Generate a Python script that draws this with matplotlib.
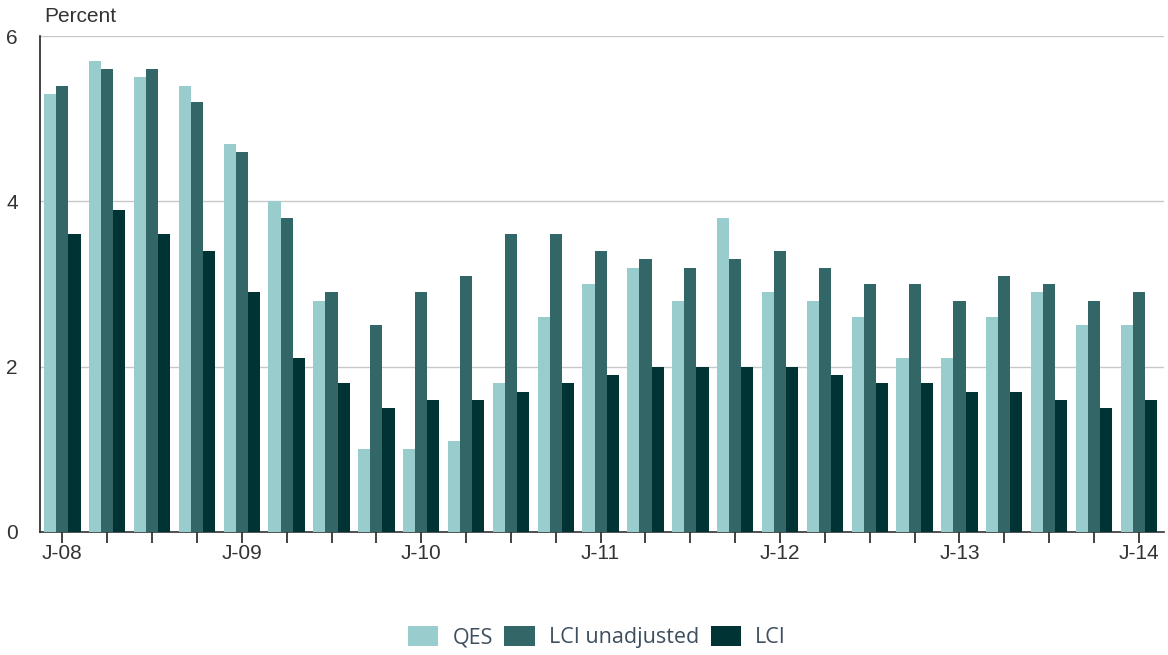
import matplotlib
matplotlib.use("Agg")
import matplotlib.pyplot as plt
import numpy as np

quarters = [f"{y}Q{q}" for y in range(2008, 2015) for q in range(1, 5)][:25]
tick_labels = ["J-08", "J-09", "J-10", "J-11", "J-12", "J-13", "J-14"]

qes = [5.3, 5.7, 5.5, 5.4, 4.7, 4.0, 2.8, 1.0, 1.0, 1.1, 1.8, 2.6, 3.0,
       3.2, 2.8, 3.8, 2.9, 2.8, 2.6, 2.1, 2.1, 2.6, 2.9, 2.5, 2.5]
lci_unadj = [5.4, 5.6, 5.6, 5.2, 4.6, 3.8, 2.9, 2.5, 2.9, 3.1, 3.6, 3.6, 3.4,
             3.3, 3.2, 3.3, 3.4, 3.2, 3.0, 3.0, 2.8, 3.1, 3.0, 2.8, 2.9]
lci = [3.6, 3.9, 3.6, 3.4, 2.9, 2.1, 1.8, 1.5, 1.6, 1.6, 1.7, 1.8, 1.9,
       2.0, 2.0, 2.0, 2.0, 1.9, 1.8, 1.8, 1.7, 1.7, 1.6, 1.5, 1.6]

series = [("QES", qes, "#99cccc"),
          ("LCI unadjusted", lci_unadj, "#336666"),
          ("LCI", lci, "#003333")]

plt.rcParams['font.family'] = ['Liberation Sans', 'DejaVu Sans']

fig = plt.figure(figsize=(11.68, 6.55), dpi=100)
ax = fig.add_axes([0.0342, 0.1878, 0.962, 0.757])

x = np.arange(len(quarters))
w = 0.27
for i, (name, vals, col) in enumerate(series):
    ax.bar(x + (i - 1) * w, vals, width=w, color=col, label=name, zorder=3)

ax.set_xlim(-0.5, 24.55)
ax.set_ylim(0, 6)
ax.set_yticks([0, 2, 4, 6])
ax.set_yticklabels(["0", "2", "4", "6"])
ax.yaxis.grid(True, color="#c8c8c8", linewidth=1.0, zorder=0)
ax.set_axisbelow(True)

ax.set_xticks(x)
labels = [""] * len(x)
for k, lab in enumerate(tick_labels):
    labels[k * 4] = lab
ax.set_xticklabels(labels)

ax.tick_params(axis='x', direction='out', length=8, width=1.2, color="#222222",
               labelsize=15, labelcolor="#333333", pad=1)
ax.tick_params(axis='y', length=0, labelsize=15, labelcolor="#333333", pad=16)

for s in ["top", "right"]:
    ax.spines[s].set_visible(False)
ax.spines["left"].set_color("#222222")
ax.spines["left"].set_linewidth(1.2)
ax.spines["bottom"].set_color("#333333")
ax.spines["bottom"].set_linewidth(1.2)

fig.text(0.038, 0.96, "Percent", fontsize=15, color="#333333", ha="left", va="bottom")

leg = fig.legend(loc="center", bbox_to_anchor=(0.511, 0.027), ncol=3, frameon=False,
                 prop={'family': ['Open Sans', 'DejaVu Sans'], 'size': 15.5},
                 handlelength=1.4, handleheight=1.0, handletextpad=0.65, columnspacing=0.55)
for t in leg.get_texts():
    t.set_color("#3d4f5f")

fig.savefig("out.png", dpi=100)
